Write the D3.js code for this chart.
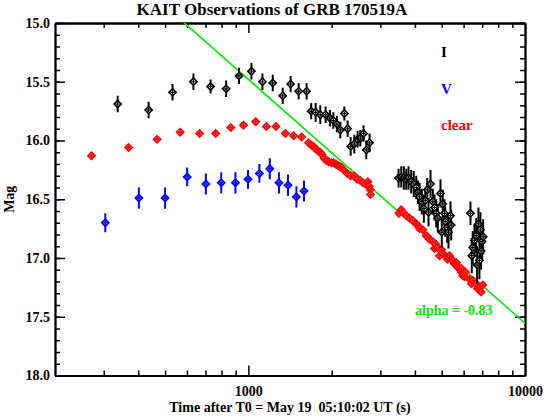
<!DOCTYPE html>
<html><head><meta charset="utf-8">
<script src="https://cdn.jsdelivr.net/npm/d3@7"></script>
<style>
body{margin:0;background:#fff;}
svg{display:block;}
text{font-family:"Liberation Serif","Times New Roman",serif;font-weight:bold;}
</style></head>
<body>
<svg id="chart" width="544" height="416"></svg>
<script>
// ---- Data (time after T0 in seconds, magnitude) ----
const timesV = [304, 402, 500, 601, 702, 798, 898, 997, 1096, 1195, 1290, 1391, 1492, 1589];
const magV   = [16.70, 16.49, 16.49, 16.31, 16.37, 16.36, 16.36, 16.33, 16.28, 16.24, 16.36, 16.38, 16.48, 16.43];
const errV   = [0.08, 0.09, 0.09, 0.08, 0.09, 0.09, 0.09, 0.08, 0.08, 0.09, 0.09, 0.09, 0.09, 0.09];

const timesI = [337, 436, 532, 633, 730, 831, 925, 1026, 1124, 1225, 1331, 1422, 1520, 1624,
  1687, 1751, 1820, 1902, 1972, 2028, 2090, 2150, 2223, 2285, 2343, 2415, 2483, 2539, 2609, 2669, 2743,
  3491, 3570, 3648, 3722, 3793, 3879, 3963, 4045, 4100, 4158, 4236, 4309, 4359, 4432, 4480, 4555, 4643,
  4709, 4775, 4840, 4949, 5003, 5044, 5116, 5147, 5233, 5290, 5379, 5410,
  6352, 6421, 6474, 6566, 6660, 6714, 6788, 6844, 6901, 6941, 6998, 7058];
const magI   = [15.69, 15.74, 15.59, 15.50, 15.54, 15.56, 15.45, 15.41, 15.50, 15.51, 15.62, 15.52, 15.58, 15.58,
  15.75, 15.76, 15.78, 15.78, 15.81, 15.83, 15.86, 15.91, 15.77, 15.90, 16.05, 16.03, 15.99, 15.98, 15.94, 16.08, 16.02,
  16.32, 16.31, 16.32, 16.33, 16.32, 16.35, 16.37, 16.40, 16.44, 16.48, 16.52, 16.58, 16.51, 16.42, 16.61, 16.37, 16.52,
  16.57, 16.62, 16.66, 16.45, 16.78, 16.54, 16.62, 16.69, 16.74, 16.78, 16.64, 16.72,
  16.62, 16.98, 16.91, 16.85, 16.81, 17.06, 16.71, 17.02, 16.76, 16.94, 16.86, 16.82];
const errI   = [0.07, 0.07, 0.07, 0.07, 0.06, 0.07, 0.07, 0.07, 0.07, 0.07, 0.07, 0.07, 0.07, 0.07,
  0.07, 0.08, 0.08, 0.07, 0.07, 0.07, 0.07, 0.07, 0.06, 0.07, 0.08, 0.08, 0.07, 0.07, 0.07, 0.08, 0.08,
  0.08, 0.09, 0.10, 0.09, 0.10, 0.10, 0.11, 0.10, 0.10, 0.12, 0.11, 0.12, 0.10, 0.10, 0.12, 0.12, 0.11,
  0.11, 0.12, 0.12, 0.12, 0.13, 0.12, 0.12, 0.13, 0.13, 0.14, 0.12, 0.13,
  0.10, 0.15, 0.14, 0.14, 0.15, 0.16, 0.14, 0.16, 0.15, 0.16, 0.15, 0.15];

const timesClear = [271, 369, 468, 567, 666, 762, 864, 960, 1063, 1162, 1259, 1361, 1458, 1558,
  1652, 1687, 1722, 1751, 1785, 1818, 1845, 1879, 1914, 1951, 1995, 2033, 2067, 2102, 2138, 2174, 2210, 2279,
  2342, 2411, 2472, 2535, 2598, 2653, 2704, 2731, 2758, 2765,
  3499, 3570, 3618, 3722, 3825, 3930, 4045, 4089, 4158, 4272, 4395, 4443, 4517, 4643, 4709, 4749, 4840,
  4909, 4990, 5044, 5189, 5246, 5333, 5410, 5482, 5559, 5639, 5652, 5715, 5796, 5878, 5892, 5957, 6041,
  6093, 6298, 6405, 6474, 6660, 6732, 6844, 6941, 7034];
const magClear = [16.13, 16.06, 15.99, 15.93, 15.94, 15.94, 15.89, 15.87, 15.84, 15.88, 15.88, 15.94, 15.96, 15.97,
  16.02, 16.04, 16.05, 16.07, 16.09, 16.10, 16.12, 16.15, 16.17, 16.18, 16.19, 16.19, 16.20, 16.21, 16.22, 16.23, 16.25, 16.28,
  16.30, 16.30, 16.33, 16.34, 16.36, 16.37, 16.35, 16.39, 16.42, 16.46,
  16.62, 16.59, 16.61, 16.64, 16.66, 16.68, 16.71, 16.72, 16.75, 16.76, 16.81, 16.82, 16.84, 16.86, 16.92, 16.88, 16.91,
  16.98, 16.93, 16.96, 16.99, 17.01, 16.98, 17.01, 17.02, 17.05, 17.06, 17.04, 17.08, 17.09, 17.12, 17.09, 17.15, 17.16,
  17.12, 17.18, 17.22, 17.19, 17.22, 17.26, 17.25, 17.29, 17.23];

// Power-law fit: mag = fitMag1000 - 2.5*alpha*log10(t/1000)
const fitAlpha = -0.83;
const fitMag1000 = 15.48;
const fitRange = [200, 10000];

const xMajor = [1000, 10000];
const xMinor = [300, 400, 500, 600, 700, 800, 900, 2000, 3000, 4000, 5000, 6000, 7000, 8000, 9000];
const yMajor = [15.0, 15.5, 16.0, 16.5, 17.0, 17.5, 18.0];
const yMinor = d3.range(150, 181).map(v => v / 10);

const legendItems = [["I", "#000000"], ["V", "#0000ff"], ["clear", "#ff0000"]];

// ---- Layout ----
const L = 55, R = 525, T = 23, B = 375.5;
const svg = d3.select("#chart");
const x = d3.scaleLog().domain([200, 10000]).range([L, R]);
const y = d3.scaleLinear().domain([15, 18]).range([T, B]);

svg.append("defs").append("clipPath").attr("id", "clip")
  .append("rect").attr("x", L).attr("y", T).attr("width", R - L).attr("height", B - T);

// title
svg.append("text").attr("x", 272).attr("y", 15).attr("text-anchor", "middle")
  .style("font-size", "17px").text("KAIT Observations of GRB 170519A");

// axes
function styleAxis(g) {
  g.selectAll("path").attr("stroke", "#000").attr("stroke-width", 1.8);
  g.selectAll("line").attr("stroke", "#000").attr("stroke-width", 1.5);
  g.selectAll("text").style("font-size", "14px").attr("fill", "#000");
}
svg.append("g").attr("transform", `translate(0,${B})`)
  .call(d3.axisBottom(x).tickValues(xMinor).tickSize(-5).tickFormat("").tickSizeOuter(0)).call(styleAxis);
svg.append("g").attr("transform", `translate(0,${B})`)
  .call(d3.axisBottom(x).tickValues(xMajor).tickSize(-10).tickSizeOuter(0).tickPadding(11).tickFormat(d3.format("d"))).call(styleAxis);
svg.append("g").attr("transform", `translate(0,${T})`)
  .call(d3.axisTop(x).tickValues(xMinor).tickSize(-5).tickFormat("").tickSizeOuter(0)).call(styleAxis);
svg.append("g").attr("transform", `translate(0,${T})`)
  .call(d3.axisTop(x).tickValues(xMajor).tickSize(-10).tickFormat("").tickSizeOuter(0)).call(styleAxis);
svg.append("g").attr("transform", `translate(${L},0)`)
  .call(d3.axisLeft(y).tickValues(yMinor).tickSize(-5).tickFormat("").tickSizeOuter(0)).call(styleAxis);
svg.append("g").attr("transform", `translate(${L},0)`)
  .call(d3.axisLeft(y).tickValues(yMajor).tickSize(-10).tickSizeOuter(0).tickPadding(5).tickFormat(d3.format(".1f"))).call(styleAxis);
svg.append("g").attr("transform", `translate(${R},0)`)
  .call(d3.axisRight(y).tickValues(yMinor).tickSize(-5).tickFormat("").tickSizeOuter(0)).call(styleAxis);
svg.append("g").attr("transform", `translate(${R},0)`)
  .call(d3.axisRight(y).tickValues(yMajor).tickSize(-10).tickFormat("").tickSizeOuter(0)).call(styleAxis);

// axis titles
svg.append("text").attr("x", (L + R) / 2).attr("y", 412).attr("text-anchor", "middle")
  .style("font-size", "14px").attr("xml:space", "preserve").style("white-space", "pre")
  .text("Time after T0 = May 19  05:10:02 UT (s)");
svg.append("text").attr("transform", `translate(14,${(T + B) / 2}) rotate(-90)`).attr("text-anchor", "middle")
  .style("font-size", "14px").text("Mag");

const plot = svg.append("g").attr("clip-path", "url(#clip)");

// fit line
const fitMag = t => fitMag1000 - 2.5 * fitAlpha * Math.log10(t / 1000);
plot.append("path")
  .datum(fitRange)
  .attr("d", d3.line().x(t => x(t)).y(t => y(fitMag(t))))
  .attr("stroke", "#00ee00").attr("stroke-width", 1.6).attr("fill", "none");

const diamond = (cx, cy, s) => `M${cx},${cy - s}L${cx + s},${cy}L${cx},${cy + s}L${cx - s},${cy}Z`;

function drawSeries(times, mags, errs, stroke, fill, size) {
  const data = times.map((t, i) => ({ t, m: mags[i], e: errs ? errs[i] : 0 }));
  const g = plot.append("g");
  if (errs) {
    g.selectAll("line.err").data(data).join("line")
      .attr("x1", d => x(d.t)).attr("x2", d => x(d.t))
      .attr("y1", d => y(d.m - d.e)).attr("y2", d => y(d.m + d.e))
      .attr("stroke", stroke).attr("stroke-width", 2);
  }
  g.selectAll("path.pt").data(data).join("path")
    .attr("d", d => diamond(x(d.t), y(d.m), size))
    .attr("fill", fill).attr("stroke", stroke).attr("stroke-width", 1.6);
  g.selectAll("line.h").data(data).join("line")
    .attr("x1", d => x(d.t) - size + 1.5).attr("x2", d => x(d.t) + size - 1.5)
    .attr("y1", d => y(d.m)).attr("y2", d => y(d.m))
    .attr("stroke", stroke).attr("stroke-width", 1.2);
  g.selectAll("line.v").data(data).join("line")
    .attr("x1", d => x(d.t)).attr("x2", d => x(d.t))
    .attr("y1", d => y(d.m) - size + 1.5).attr("y2", d => y(d.m) + size - 1.5)
    .attr("stroke", stroke).attr("stroke-width", 1.2);
}

drawSeries(timesClear, magClear, null, "#ff0000", "#ff8080", 3.6);
drawSeries(timesV, magV, errV, "#0000ff", "#8080ff", 3.6);
drawSeries(timesI, magI, errI, "#000000", "#ffffff", 3.6);

// legend
svg.selectAll("text.leg").data(legendItems).join("text")
  .attr("class", "leg").attr("x", 441).attr("y", (d, i) => 57 + i * 36.5)
  .attr("fill", d => d[1]).style("font-size", "15px").text(d => d[0]);

// fit label
svg.append("text").attr("x", 415).attr("y", 315).attr("fill", "#00ee00")
  .style("font-size", "14px").text(`alpha = ${fitAlpha.toFixed(2)}`);
</script>
</body></html>
